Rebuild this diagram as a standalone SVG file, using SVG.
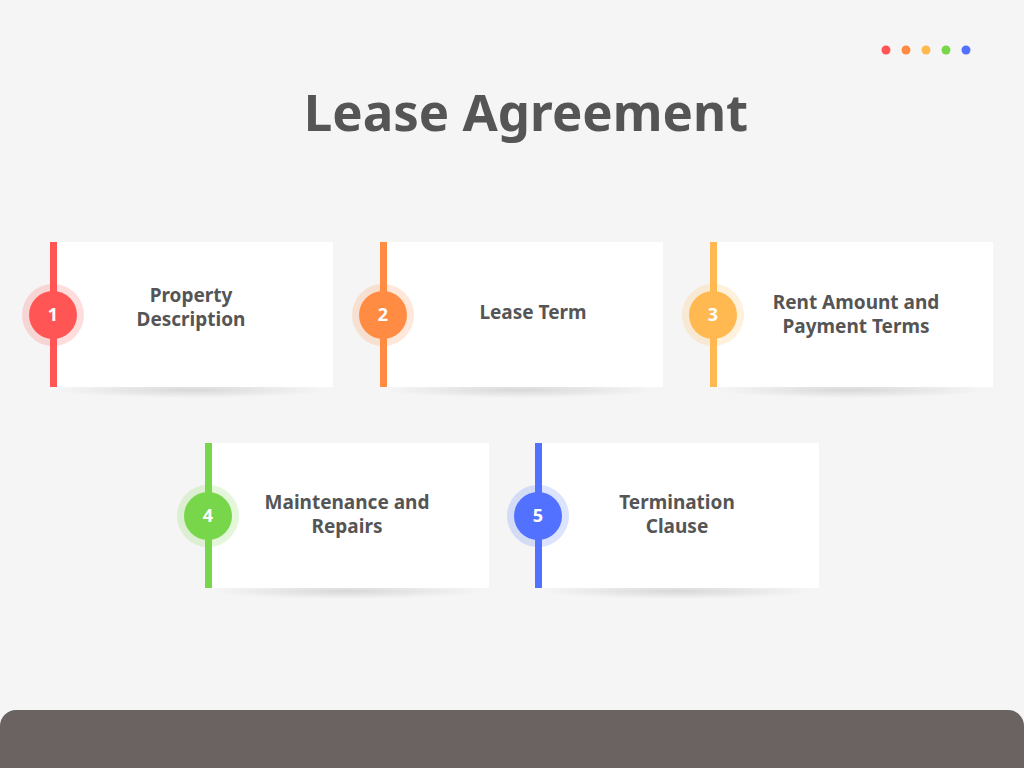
<svg xmlns="http://www.w3.org/2000/svg" width="1024" height="768" viewBox="0 0 1024 768">
<style>
.card{fill:#fff}
.lbl{font-family:"Noto Sans","Open Sans",sans-serif;font-weight:700;font-size:19px;fill:#555;text-anchor:middle}
.num{font-family:"Noto Sans",sans-serif;font-weight:700;font-size:18px;fill:#fff;text-anchor:middle}
</style>
<defs>
<radialGradient id="sh" cx="0.5" cy="0.5" r="0.5"><stop offset="0" stop-color="#000" stop-opacity="0.12"/><stop offset="1" stop-color="#000" stop-opacity="0"/></radialGradient>
</defs>
<rect width="1024" height="768" fill="#f5f5f5"/>
<g id="dots"><circle cx="886" cy="50" r="4.5" fill="#ff5555"/><circle cx="906" cy="50" r="4.5" fill="#ff8c42"/><circle cx="926" cy="50" r="4.5" fill="#ffb950"/><circle cx="946" cy="50" r="4.5" fill="#78d64b"/><circle cx="966" cy="50" r="4.5" fill="#5271ff"/></g>
<text x="526" y="131" font-family="'Noto Sans','Open Sans',sans-serif" font-weight="700" font-size="51" fill="#555" text-anchor="middle">Lease Agreement</text>
<g id="n1"><ellipse cx="191" cy="390" rx="135" ry="8" fill="url(#sh)"/><rect class="card" x="50" y="242" width="283" height="145"/><rect x="50" y="242" width="7" height="145" fill="#ff5555"/><circle cx="53" cy="315" r="31" fill="#ff5555" opacity="0.2"/><circle cx="53" cy="315" r="24" fill="#ff5555"/><text class="num" x="53" y="321">1</text><text class="lbl" x="191" y="302">Property</text><text class="lbl" x="191" y="326">Description</text></g>
<g id="n2"><ellipse cx="521" cy="390" rx="135" ry="8" fill="url(#sh)"/><rect class="card" x="380" y="242" width="283" height="145"/><rect x="380" y="242" width="7" height="145" fill="#ff8c42"/><circle cx="383" cy="315" r="31" fill="#ff8c42" opacity="0.2"/><circle cx="383" cy="315" r="24" fill="#ff8c42"/><text class="num" x="383" y="321">2</text><text class="lbl" x="533" y="319">Lease Term</text></g>
<g id="n3"><ellipse cx="851" cy="390" rx="135" ry="8" fill="url(#sh)"/><rect class="card" x="710" y="242" width="283" height="145"/><rect x="710" y="242" width="7" height="145" fill="#ffb950"/><circle cx="713" cy="315" r="31" fill="#ffb950" opacity="0.2"/><circle cx="713" cy="315" r="24" fill="#ffb950"/><text class="num" x="713" y="321">3</text><text class="lbl" x="856" y="309">Rent Amount and</text><text class="lbl" x="856" y="333">Payment Terms</text></g>
<g id="n4"><ellipse cx="347" cy="591" rx="135" ry="8" fill="url(#sh)"/><rect class="card" x="205" y="443" width="284" height="145"/><rect x="205" y="443" width="7" height="145" fill="#78d64b"/><circle cx="208" cy="516" r="31" fill="#78d64b" opacity="0.2"/><circle cx="208" cy="516" r="24" fill="#78d64b"/><text class="num" x="208" y="522">4</text><text class="lbl" x="347" y="509">Maintenance and</text><text class="lbl" x="347" y="533">Repairs</text></g>
<g id="n5"><ellipse cx="677" cy="591" rx="135" ry="8" fill="url(#sh)"/><rect class="card" x="535" y="443" width="284" height="145"/><rect x="535" y="443" width="7" height="145" fill="#5271ff"/><circle cx="538" cy="516" r="31" fill="#5271ff" opacity="0.2"/><circle cx="538" cy="516" r="24" fill="#5271ff"/><text class="num" x="538" y="522">5</text><text class="lbl" x="677" y="509">Termination</text><text class="lbl" x="677" y="533">Clause</text></g>
<g id="connectors"/>
<rect x="0" y="710" width="1024" height="80" rx="16" fill="#6b6262"/>
</svg>
